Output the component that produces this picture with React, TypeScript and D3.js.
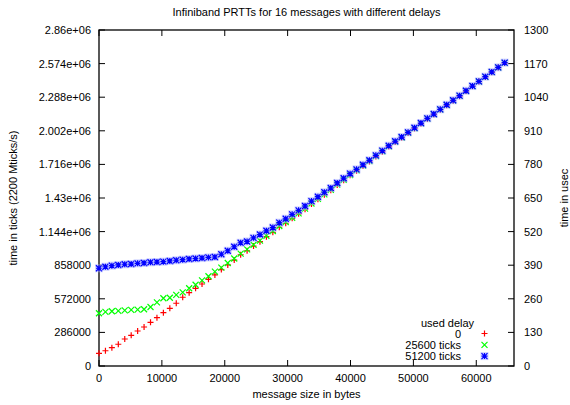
import React from "react";
import * as d3 from "d3";

// Message sizes in bytes: 64 measurements, 1 KiB apart
const sizes: number[] = d3.range(64).map((i) => i * 1024);

// Round-trip times in ticks (2200 ticks per microsecond)
const delay0: number[] = [
  108000, 130000, 156000, 185000, 230000, 261000, 298000, 332000, 372000, 411000,
  454000, 491000, 534000, 585000, 624000, 661000, 698000, 738000, 775000, 821000,
  860000, 902000, 947000, 981000, 1021000, 1058000, 1101000, 1138000, 1181000, 1215000,
  1257000, 1295000, 1335000, 1379000, 1419000, 1458000, 1496000, 1541000, 1582000, 1623000,
  1662000, 1702000, 1741000, 1784000, 1824000, 1868000, 1906000, 1942000, 1983000, 2022000,
  2063000, 2103000, 2141000, 2181000, 2220000, 2258000, 2297000, 2340000, 2381000, 2421000,
  2460000, 2500000, 2540000, 2579000,
];

const delay25600: number[] = [
  449000, 461000, 466000, 469000, 473000, 478000, 480000, 483000, 502000, 542000,
  577000, 581000, 606000, 627000, 662000, 692000, 729000, 764000, 803000, 838000,
  877000, 915000, 956000, 993000, 1032000, 1067000, 1109000, 1149000, 1192000, 1226000,
  1262000, 1299000, 1339000, 1383000, 1422000, 1461000, 1499000, 1544000, 1585000, 1626000,
  1665000, 1705000, 1744000, 1787000, 1827000, 1870000, 1908000, 1944000, 1985000, 2024000,
  2065000, 2105000, 2143000, 2183000, 2222000, 2260000, 2299000, 2341000, 2382000, 2422000,
  2461000, 2501000, 2541000, 2580000,
];

const delay51200: number[] = [
  832000, 845000, 854000, 860000, 866000, 868000, 874000, 877000, 883000, 885000,
  888000, 894000, 900000, 905000, 911000, 915000, 919000, 924000, 928000, 951000,
  981000, 1015000, 1049000, 1060000, 1091000, 1119000, 1151000, 1179000, 1220000, 1253000,
  1291000, 1325000, 1362000, 1404000, 1441000, 1479000, 1515000, 1558000, 1598000, 1637000,
  1674000, 1713000, 1751000, 1793000, 1833000, 1875000, 1913000, 1949000, 1989000, 2028000,
  2068000, 2108000, 2145000, 2185000, 2224000, 2262000, 2301000, 2343000, 2383000, 2423000,
  2463000, 2503000, 2542000, 2582000,
];

const seriesLabels: string[] = ["0", "25600 ticks", "51200 ticks"];
const seriesColors: string[] = ["#ff0000", "#00ff00", "#0000ff"];

const xTicks: number[] = [0, 10000, 20000, 30000, 40000, 50000, 60000];
const yTicks: number[] = [0, 286000, 572000, 858000, 1144000, 1430000, 1716000, 2002000, 2288000, 2574000, 2860000];
const yTickLabels: string[] = ["0", "286000", "572000", "858000", "1.144e+06", "1.43e+06", "1.716e+06", "2.002e+06", "2.288e+06", "2.574e+06", "2.86e+06"];
const y2Ticks: number[] = [0, 130, 260, 390, 520, 650, 780, 910, 1040, 1170, 1300];

const W = 570;
const H = 405;
const L = 99;
const R = 514;
const T = 30;
const B = 366;
const FONT = "'Liberation Sans', Arial, Helvetica, sans-serif";
const TICK = 6;

const x = d3.scaleLinear().domain([0, 66000]).range([L, R]);
const y = d3.scaleLinear().domain([0, 2860000]).range([B, T]);
const y2 = d3.scaleLinear().domain([0, 1300]).range([B, T]);

function Marker({ kind, cx, cy, color }: { kind: number; cx: number; cy: number; color: string }) {
  const s = 3;
  const plus = `M${cx - s},${cy}H${cx + s}M${cx},${cy - s}V${cy + s}`;
  const cross = `M${cx - s},${cy - s}L${cx + s},${cy + s}M${cx - s},${cy + s}L${cx + s},${cy - s}`;
  if (kind === 0) return <path d={plus} stroke={color} strokeWidth={1.2} fill="none" />;
  if (kind === 1) return <path d={cross} stroke={color} strokeWidth={1.2} fill="none" />;
  return (
    <g>
      <rect x={cx - s - 1} y={cy - s - 1} width={2 * s + 2} height={2 * s + 2} fill="#aab0ff" opacity={0.55} />
      <path d={plus + cross} stroke={color} strokeWidth={1.2} fill="none" />
    </g>
  );
}

export default function App() {
  const series = [delay0, delay25600, delay51200];
  return (
    <svg width={W} height={H} style={{ position: "absolute", left: 0, top: 0, background: "#fff" }} fontFamily={FONT} fontSize={11}>
      <rect x={0} y={0} width={W} height={H} fill="#fff" />
      <text x={(L + R) / 2} y={16} textAnchor="middle">Infiniband PRTTs for 16 messages with different delays</text>

      {/* x ticks, bottom and mirrored on top */}
      {xTicks.map((t) => (
        <g key={`x${t}`}>
          <line x1={x(t)} x2={x(t)} y1={B} y2={B - TICK} stroke="#000" />
          <line x1={x(t)} x2={x(t)} y1={T} y2={T + TICK} stroke="#000" />
          <text x={x(t)} y={B + 16} textAnchor="middle">{d3.format("d")(t)}</text>
        </g>
      ))}

      {/* left axis ticks */}
      {yTicks.map((t, i) => (
        <g key={`y${t}`}>
          <line x1={L} x2={L + TICK} y1={y(t)} y2={y(t)} stroke="#000" />
          <text x={L - 8} y={y(t) + 4} textAnchor="end">{yTickLabels[i]}</text>
        </g>
      ))}

      {/* right axis ticks in microseconds */}
      {y2Ticks.map((t) => (
        <g key={`y2${t}`}>
          <line x1={R} x2={R - TICK} y1={y2(t)} y2={y2(t)} stroke="#000" />
          <text x={R + 10} y={y2(t) + 4} textAnchor="start">{t}</text>
        </g>
      ))}

      <rect x={L} y={T} width={R - L} height={B - T} fill="none" stroke="#000" strokeWidth={1.3} />

      <text x={(L + R) / 2} y={398} textAnchor="middle">message size in bytes</text>
      <text transform={`translate(17,${(T + B) / 2}) rotate(-90)`} textAnchor="middle">time in ticks (2200 Mticks/s)</text>
      <text transform={`translate(568,${(T + B) / 2}) rotate(-90)`} textAnchor="middle">time in usec</text>

      {/* data points */}
      {series.map((vals, si) => (
        <g key={`s${si}`}>
          {vals.map((v, i) => (
            <Marker key={i} kind={si} cx={x(sizes[i])} cy={y(v)} color={seriesColors[si]} />
          ))}
        </g>
      ))}

      {/* key */}
      <text x={447.5} y={326.5} textAnchor="middle">used delay</text>
      {seriesLabels.map((lab, i) => (
        <g key={`k${i}`}>
          <text x={461} y={337.5 + i * 11.3} textAnchor="end">{lab}</text>
          <Marker kind={i} cx={484.5} cy={333.5 + i * 11.3} color={seriesColors[i]} />
        </g>
      ))}
    </svg>
  );
}
